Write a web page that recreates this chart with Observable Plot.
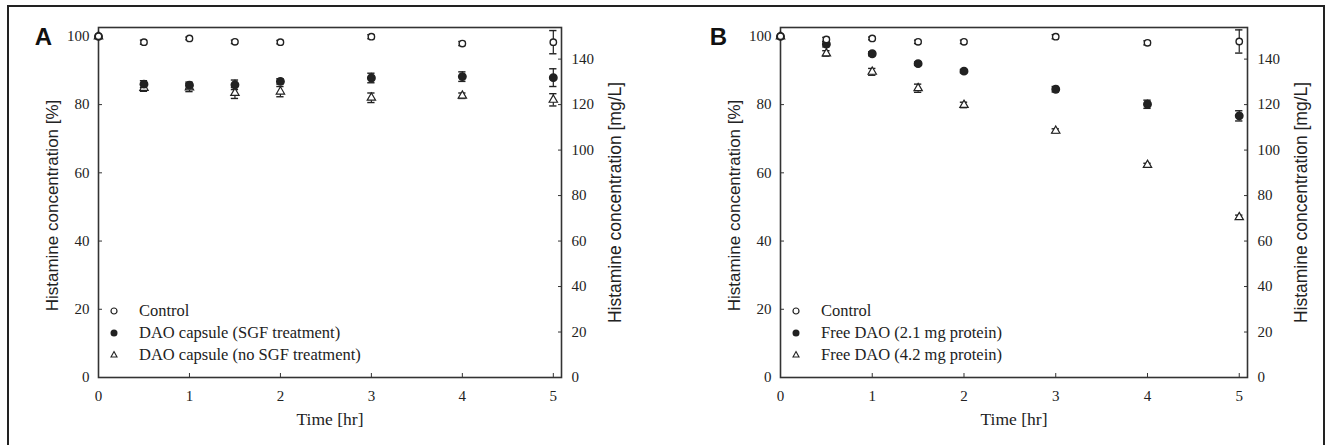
<!DOCTYPE html>
<html><head><meta charset="utf-8">
<script src="https://cdn.jsdelivr.net/npm/d3@7"></script>
<script src="https://cdn.jsdelivr.net/npm/@observablehq/plot@0.6"></script>
<style>
body{margin:0;background:#fff;}
#wrap{position:relative;width:1332px;height:445px;overflow:hidden;background:#fff;}
#border{position:absolute;left:7px;top:5px;width:1318px;height:470px;border:2px solid #222;box-sizing:border-box;}
.panel{position:absolute;top:0;}
.leg{position:absolute;font-family:"Liberation Serif",serif;font-size:16.5px;color:#222;white-space:nowrap;line-height:18px;}
.leg svg{position:absolute;overflow:visible;}
</style>
</head><body>
<div id="wrap"><div id="border"></div></div>
<script>
// ---- data ----
const times = [0, 0.5, 1, 1.5, 2, 3, 4, 5];
const xTicks = [0, 1, 2, 3, 4, 5];
const leftTicks = [0, 20, 40, 60, 80, 100];
const rightTickLabels = [0, 20, 40, 60, 80, 100, 120, 140];
const mgPerPercent = 1.5; // 100 % = 150 mg/L

const namesA = ["Control", "DAO capsule (SGF treatment)", "DAO capsule (no SGF treatment)"];
const aControl    = [100, 98.3, 99.4, 98.4, 98.3, 99.9, 97.9, 98.3];
const aControlErr = [0, 0.6, 0.4, 0.5, 0.5, 0.6, 0.6, 3.4];
const aSGF        = [100, 86.0, 85.7, 85.8, 86.8, 87.8, 88.2, 87.9];
const aSGFErr     = [0, 1.0, 0.9, 1.4, 0.8, 1.4, 1.4, 2.6];
const aNoSGF      = [100, 84.9, 85.0, 83.4, 83.8, 82.0, 82.6, 81.4];
const aNoSGFErr   = [0, 1.0, 1.2, 1.6, 1.5, 1.4, 0.8, 1.8];

const namesB = ["Control", "Free DAO (2.1 mg protein)", "Free DAO (4.2 mg protein)"];
const bControl    = [100, 99.1, 99.4, 98.4, 98.4, 99.9, 98.1, 98.5];
const bControlErr = [0, 0.6, 0.4, 0.5, 0.5, 0.6, 0.6, 3.4];
const bLow        = [100, 97.7, 94.9, 92.0, 89.8, 84.5, 80.1, 76.7];
const bLowErr     = [0, 0.8, 0.6, 0.5, 0.5, 0.8, 1.2, 1.5];
const bHigh       = [100, 95.0, 89.6, 84.8, 79.9, 72.3, 62.3, 47.0];
const bHighErr    = [0, 0.8, 1.0, 1.2, 0.8, 0.6, 0.5, 0.6];

const ink = "#222";
function rows(vals, errs) { return times.map((t, i) => ({t, v: vals[i], e: errs[i]})); }

function errMarks(data) {
  const cap = 0.04;
  const d = data.filter(r => r.e > 0);
  return [
    Plot.ruleX(d, {x: "t", y1: r => r.v - r.e, y2: r => r.v + r.e, stroke: ink, strokeWidth: 1.2}),
    Plot.ruleY(d, {y: r => r.v + r.e, x1: r => r.t - cap, x2: r => r.t + cap, stroke: ink, strokeWidth: 1.4}),
    Plot.ruleY(d, {y: r => r.v - r.e, x1: r => r.t - cap, x2: r => r.t + cap, stroke: ink, strokeWidth: 1.4})
  ];
}

function panel(opts) {
  const {ctrl, filled, open, mL, mR, letter, letterDx} = opts;
  return Plot.plot({
    width: 666, height: 445,
    marginLeft: mL, marginRight: mR, marginTop: 27, marginBottom: 68,
    x: {domain: [0, 5.09]},
    y: {domain: [0, 102.6]},
    style: {fontFamily: '"Liberation Serif", serif', fontSize: "15px", color: ink, background: "transparent", overflow: "visible"},
    marks: [
      Plot.frame({stroke: "#333", strokeWidth: 1.6}),
      Plot.axisX(xTicks, {tickSize: 0, tickPadding: 13, label: null}),
      Plot.axisX(xTicks, {tickSize: 4, dy: -4, tickFormat: () => "", label: null, stroke: "#333"}),
      Plot.axisY(leftTicks, {tickSize: 0, tickPadding: 9, label: null}),
      Plot.axisY(leftTicks, {tickSize: 4, dx: 4, tickFormat: () => "", label: null, stroke: "#333"}),
      Plot.axisY(rightTickLabels.map(v => v / mgPerPercent), {anchor: "right", tickSize: 0, tickPadding: 10, tickFormat: d => String(Math.round(d * mgPerPercent)), label: null}),
      Plot.axisY(rightTickLabels.map(v => v / mgPerPercent), {anchor: "right", tickSize: 4, dx: -4, tickFormat: () => "", label: null, stroke: "#333"}),
      Plot.text(["Histamine concentration [%]"], {frameAnchor: "left", dx: -46, dy: 3, rotate: -90, textAnchor: "middle", lineAnchor: "middle", fontFamily: '"Liberation Sans", sans-serif', fontSize: 17, fill: ink}),
      Plot.text(["Histamine concentration [mg/L]"], {frameAnchor: "right", dx: 54, rotate: -90, textAnchor: "middle", lineAnchor: "middle", fontFamily: '"Liberation Sans", sans-serif', fontSize: 17.5, fill: ink}),
      Plot.text(["Time [hr]"], {frameAnchor: "bottom", dy: 42, textAnchor: "middle", lineAnchor: "middle", fontSize: 17.5, fill: ink}),
      Plot.text([letter], {frameAnchor: "top-left", dx: letterDx, dy: 10, textAnchor: "middle", lineAnchor: "middle", fontFamily: '"Liberation Sans", sans-serif', fontWeight: "bold", fontSize: 24, fill: "#111"}),
      ...errMarks(open), ...errMarks(filled), ...errMarks(ctrl),
      Plot.dot(open, {x: "t", y: "v", symbol: "triangle", r: 3.1, fill: "white", stroke: ink, strokeWidth: 1.2}),
      Plot.dot(filled, {x: "t", y: "v", symbol: "circle", r: 3.7, fill: ink, stroke: ink}),
      Plot.dot(ctrl, {x: "t", y: "v", symbol: "circle", r: 3.2, fill: "white", stroke: ink, strokeWidth: 1.4})
    ]
  });
}

const wrap = document.getElementById("wrap");
const pA = panel({ctrl: rows(aControl, aControlErr), filled: rows(aSGF, aSGFErr), open: rows(aNoSGF, aNoSGFErr), mL: 98, mR: 105, letter: "A", letterDx: -55});
const pB = panel({ctrl: rows(bControl, bControlErr), filled: rows(bLow, bLowErr), open: rows(bHigh, bHighErr), mL: 114, mR: 85, letter: "B", letterDx: -62});
const dA = document.createElement("div"); dA.className = "panel"; dA.style.left = "0px"; dA.appendChild(pA); wrap.appendChild(dA);
const dB = document.createElement("div"); dB.className = "panel"; dB.style.left = "666px"; dB.appendChild(pB); wrap.appendChild(dB);

// legends
const symbols = [
  '<circle cx="0" cy="0" r="3" fill="white" stroke="#222" stroke-width="1.2"/>',
  '<circle cx="0" cy="0" r="3.5" fill="#222"/>',
  '<path d="M0,-3.4L3,2L-3,2Z" fill="white" stroke="#222" stroke-width="1.1"/>'
];
function legend(names, symX, textX) {
  const rowY = [311, 333, 355];
  names.forEach((n, i) => {
    const d = document.createElement("div");
    d.className = "leg";
    d.style.left = textX + "px";
    d.style.top = (rowY[i] - 9) + "px";
    d.innerHTML = `<svg width="1" height="1" style="left:${symX - textX}px;top:9px">${symbols[i]}</svg>` + n;
    wrap.appendChild(d);
  });
}
legend(namesA, 114, 139);
legend(namesB, 796, 821);
</script>
</body></html>
